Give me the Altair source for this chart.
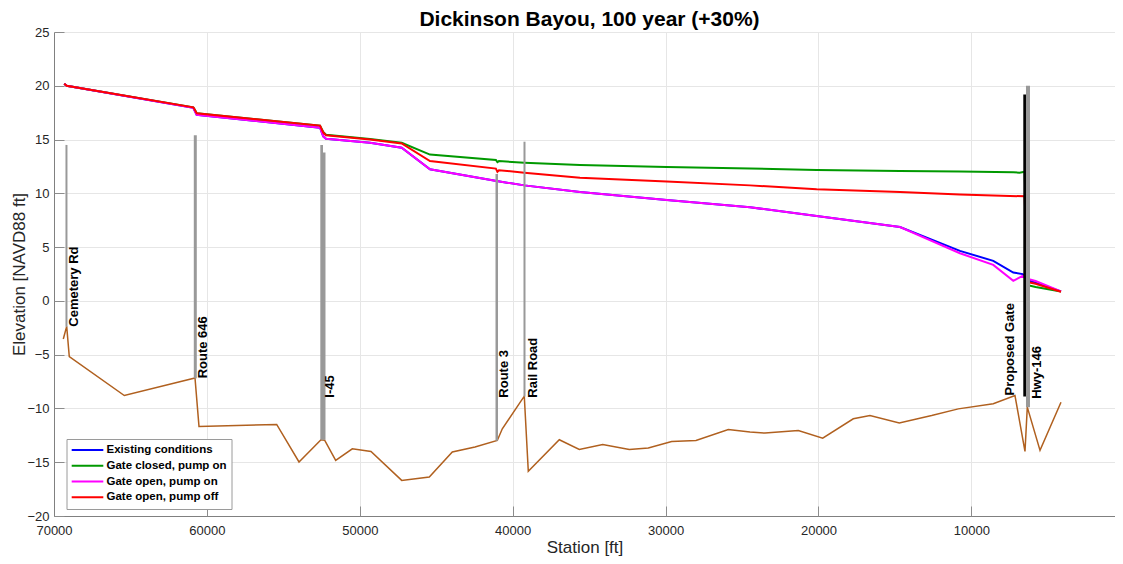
import altair as alt
import pandas as pd

FONT = "Liberation Sans"

# ---------------- water surface profiles (station ft, elevation ft) -------------
series_names = ["Existing conditions", "Gate closed, pump on",
                "Gate open, pump on", "Gate open, pump off"]
series_colors = ["#0000ff", "#009900", "#ff00ff", "#ff0000"]

exist_sta = [69330, 69170, 60890, 60670, 52600, 52390, 52210, 49330, 47260, 45410,
             41050, 39240, 35600, 29930, 24480, 20120, 14670, 10750, 8570, 7260,
             6650, 6300, 5800, 4140]
exist_el = [20.2, 20.0, 17.95, 17.3, 16.1, 15.3, 15.07, 14.7, 14.24, 12.23,
            11.14, 10.74, 10.12, 9.38, 8.7, 7.9, 6.87, 4.65, 3.72, 2.64,
            2.49, 1.9, 1.7, 0.88]

closed_sta = [69330, 69170, 60890, 60800, 60670, 52600, 52390, 52210, 49330, 47260,
              45410, 41100, 41000, 40900, 39240, 35600, 29930, 24480, 20120, 14670,
              10750, 7260, 6850, 6520, 6300, 5800, 4140]
closed_el = [20.2, 20.0, 18.0, 17.8, 17.45, 16.3, 15.7, 15.45, 15.05, 14.7,
             13.6, 13.1, 12.9, 13.0, 12.85, 12.63, 12.44, 12.32, 12.16, 12.07,
             12.02, 11.95, 11.92, 12.01, 1.45, 1.3, 0.88]

openon_sta = [69330, 69170, 60890, 60670, 52600, 52390, 52210, 49330, 47260, 45410,
              41050, 39240, 35600, 29930, 24480, 20120, 14670, 10750, 8570, 7260,
              6650, 6300, 5800, 4140]
openon_el = [20.2, 20.0, 17.95, 17.3, 16.1, 15.3, 15.07, 14.7, 14.24, 12.23,
             11.14, 10.74, 10.12, 9.38, 8.7, 7.9, 6.87, 4.43, 3.35, 1.87,
             2.33, 2.05, 1.85, 0.88]

openoff_sta = [69330, 69170, 60890, 60800, 60670, 52600, 52390, 52210, 49330, 47260,
               45410, 41100, 41000, 40900, 39240, 35600, 29930, 24480, 20120, 14670,
               10750, 6520, 6300, 5800, 4140]
openoff_el = [20.2, 20.0, 18.0, 17.8, 17.45, 16.3, 15.65, 15.4, 15.0, 14.64,
              13.0, 12.3, 12.0, 12.15, 11.92, 11.46, 11.09, 10.74, 10.37, 10.12,
              9.9, 9.72, 1.75, 1.6, 0.85]

# ---------------- channel bed ----------------
bed_sta = [69392, 69170, 69000, 65402, 60778, 60517, 55436, 53976, 52538, 52300,
           51577, 50491, 49268, 47260, 45455, 43950, 42466, 41007, 40680, 39242,
           38980, 36952, 35644, 34114, 32374, 31132, 29602, 28012, 25899, 24480,
           23497, 21320, 19725, 17724, 16633, 14716, 12598, 10858, 8569, 7150,
           6495, 6344, 5512, 4140]
bed_el = [-3.54, -2.37, -5.19, -8.8, -7.16, -11.68, -11.49, -14.98, -12.91, -12.95,
          -14.83, -13.75, -14.0, -16.69, -16.37, -14.05, -13.59, -12.98, -11.89, -8.86,
          -15.85, -12.91, -13.81, -13.35, -13.81, -13.68, -13.07, -12.98, -11.96, -12.2,
          -12.29, -12.05, -12.76, -10.96, -10.66, -11.34, -10.66, -10.04, -9.57, -8.8,
          -14.0, -9.88, -13.9, -9.43]

# ---------------- structures (deck extents in station ft) ----------------
struct_kind = ["bridge", "bridge", "bridge", "bridge", "bridge", "bridge", "gate", "bridge"]
struct_sta1 = [69250, 60857, 52583, 52450, 41125, 39294, 6606, 6430]
struct_sta2 = [69120, 60661, 52407, 52244, 40962, 39163, 6430, 6168]
struct_top = [14.5, 15.4, 14.5, 13.8, 11.8, 14.8, 19.2, 20.0]
struct_bot = [-2.4, -7.2, -12.9, -12.9, -13.0, -8.9, -8.9, -9.9]

label_text = ["Cemetery Rd", "Route 646", "I-45", "Route 3", "Rail Road",
              "Proposed Gate", "Hwy-146"]
label_sta = [69117, 60648, 52322, 40994, 39097, 7018, 6100]
label_el = [-2.4, -7.2, -9.0, -9.0, -9.0, -8.8, -9.1]
label_side = ["right", "right", "right", "right", "right", "left", "right"]

x_ticks = [10000, 20000, 30000, 40000, 50000, 60000, 70000]
y_ticks = [-20, -15, -10, -5, 0, 5, 10, 15, 20, 25]

# ---------------- tables ----------------
rows = []
for name, sta, el in zip(series_names,
                         [exist_sta, closed_sta, openon_sta, openoff_sta],
                         [exist_el, closed_el, openon_el, openoff_el]):
    for i, (s, e) in enumerate(zip(sta, el)):
        rows.append({"series": name, "sta": s, "el": e, "ord": i})
ws = pd.DataFrame(rows)
bed = pd.DataFrame({"sta": bed_sta, "el": bed_el, "ord": range(len(bed_sta))})
st = pd.DataFrame({"kind": struct_kind, "s1": struct_sta1, "s2": struct_sta2,
                   "top": struct_top, "bot": struct_bot})
lab = pd.DataFrame({"text": label_text, "sta": label_sta, "el": label_el,
                    "side": label_side})

# the reference's axis runs to 0 ft just past the right edge of the picture
xscale = alt.Scale(domain=[608, 70000], reverse=True, nice=False, zero=False)
yscale = alt.Scale(domain=[-20, 25], nice=False, zero=False)

xaxis = alt.Axis(values=x_ticks, format="d", title="Station [ft]", grid=True,
                 labelFlush=False, orient="bottom")
yaxis = alt.Axis(values=y_ticks, format="d", title="Elevation [NAVD88 ft]", grid=True,
                 labelFlush=False, titleX=-26, orient="left")

# inward-pointing tick marks (MATLAB style)
xtick_axis = alt.Axis(values=x_ticks, orient="bottom", offset=-10, ticks=True,
                      tickSize=10, tickColor="#8c8c8c", tickWidth=1, labels=False,
                      domain=False, grid=False, title=None)
ytick_axis = alt.Axis(values=y_ticks, orient="left", offset=-10, ticks=True,
                      tickSize=10, tickColor="#8c8c8c", tickWidth=1, labels=False,
                      domain=False, grid=False, title=None)

color_enc = alt.Color(
    "series:N",
    scale=alt.Scale(domain=series_names, range=series_colors),
    sort=series_names,
    legend=alt.Legend(
        title=None, orient="none", legendX=12.5, legendY=407,
        symbolType="stroke", symbolSize=1000, symbolStrokeWidth=2,
        clipHeight=13.8,
        labelFontSize=11.5, labelFontWeight="bold", labelFont=FONT,
        labelColor="#000000", labelOffset=2, padding=4, rowPadding=1.8,
        strokeColor="#9a9a9a", fillColor="#ffffff",
    ),
)

layers = []
for k, name in enumerate(series_names):
    layers.append(
        alt.Chart(ws).transform_filter(alt.datum.series == name)
        .mark_line(strokeWidth=2, clip=True)
        .encode(
            x=alt.X("sta:Q", scale=xscale, axis=xaxis),
            y=alt.Y("el:Q", scale=yscale, axis=yaxis),
            color=color_enc,
            order="ord:Q",
        )
    )
water = alt.layer(*layers)

bed_layer = alt.Chart(bed).mark_line(strokeWidth=1.5, color="#b0601f").encode(
    x=alt.X("sta:Q", axis=xtick_axis), y=alt.Y("el:Q", axis=ytick_axis),
    order="ord:Q")

bridges = alt.Chart(st).transform_filter(alt.datum.kind == "bridge").mark_rect(
    color="#999999").encode(x=alt.X("s1:Q", axis=None), x2="s2:Q",
                            y=alt.Y("bot:Q", axis=None), y2="top:Q")
gates = alt.Chart(st).transform_filter(alt.datum.kind == "gate").mark_rect(
    color="#000000").encode(x=alt.X("s1:Q", axis=None), x2="s2:Q",
                            y=alt.Y("bot:Q", axis=None), y2="top:Q")

labels_r = alt.Chart(lab).transform_filter(alt.datum.side == "right").mark_text(
    angle=270, align="left", baseline="top", font=FONT, fontSize=13,
    fontWeight="bold", color="#000000").encode(
    x=alt.X("sta:Q", axis=None), y=alt.Y("el:Q", axis=None), text="text:N")
labels_l = alt.Chart(lab).transform_filter(alt.datum.side == "left").mark_text(
    angle=270, align="left", baseline="bottom", font=FONT, fontSize=13,
    fontWeight="bold", color="#000000").encode(
    x=alt.X("sta:Q", axis=None), y=alt.Y("el:Q", axis=None), text="text:N")

chart = alt.layer(water, bed_layer, bridges, gates, labels_r, labels_l).resolve_axis(
    x="independent", y="independent"
).properties(
    width=1061, height=484,
    title=alt.TitleParams("Dickinson Bayou, 100 year (+30%)", font=FONT, fontSize=21,
                          fontWeight="bold", color="#000000", anchor="middle",
                          offset=2, dy=6, dx=5),
    autosize=alt.AutoSizeParams(type="none"),
    padding={"left": 46, "top": 24, "right": 0, "bottom": 40},
).configure_view(stroke=None).configure_axis(
    labelFont=FONT, titleFont=FONT, labelFontSize=13, labelColor="#262626",
    titleFontSize=17, titleFontWeight="normal", titleColor="#262626",
    gridColor="#e6e6e6", gridWidth=1, domainColor="#808080", domainWidth=1,
    ticks=False,
).configure_axisX(labelPadding=8, titlePadding=2).configure_axisY(
    labelPadding=5, titlePadding=2)

chart.save("out.html", embed_options={"renderer": "svg", "actions": False})
